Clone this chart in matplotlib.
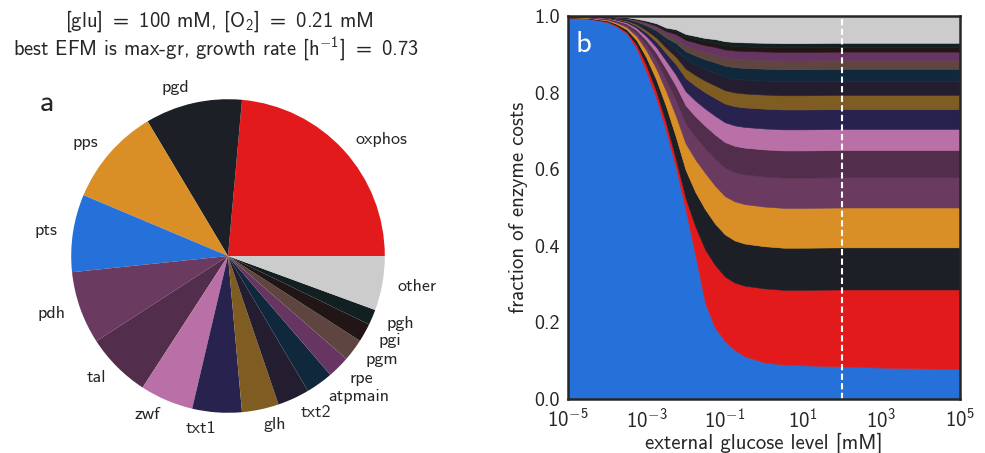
import numpy as np
import matplotlib
matplotlib.use("Agg")
import matplotlib.pyplot as plt
from matplotlib.ticker import FixedLocator, FixedFormatter

plt.rcParams['font.family'] = ['cmss10', 'DejaVu Sans']
plt.rcParams['mathtext.fontset'] = 'custom'
plt.rcParams['mathtext.rm'] = 'cmss10'
plt.rcParams['mathtext.it'] = 'cmss10'
plt.rcParams['mathtext.sf'] = 'cmss10'
plt.rcParams['mathtext.bf'] = 'cmss10'
plt.rcParams['axes.formatter.use_mathtext'] = True
plt.rcParams['axes.unicode_minus'] = True

TXT = '#262626'

# ---------------- pie data (panel a) ----------------
pie_labels = ['oxphos', 'pgd', 'pps', 'pts', 'pdh', 'tal', 'zwf', 'txt1', 'glh',
              'txt2', 'atpmain', 'rpe', 'pgm', 'pgi', 'pgh', 'other']
pie_values = [23.6, 10.0, 10.1, 8.0, 7.5, 6.7, 5.5, 5.1, 3.8,
              3.3, 2.8, 2.3, 2.3, 1.9, 1.6, 5.6]

colors = {
    'pts': '#2670d9', 'oxphos': '#e31a1c', 'pgd': '#1c1f26', 'pps': '#d98f26',
    'pdh': '#6a3a60', 'tal': '#522e4c', 'zwf': '#b970a6', 'txt1': '#28224f',
    'glh': '#7f5c22', 'txt2': '#241d30', 'atpmain': '#10283c', 'pgm': '#5e4540',
    'rpe': '#673562', 'pgi': '#221515', 'pgh': '#132022', 'other': '#cccccc',
}

# ---------------- stack data (panel b) ----------------
log_glucose = [-5, -4.5, -4, -3.75, -3.5, -3.25, -3, -2.75, -2.5, -2.25, -2, -1.75,
               -1.5, -1.25, -1, -0.75, -0.5, 0, 0.5, 1, 2, 3, 4, 5]

pts = [0.995, 0.993, 0.984, 0.972, 0.954, 0.915, 0.854, 0.785, 0.701, 0.605, 0.495, 0.375,
       0.250, 0.186, 0.152, 0.128, 0.112, 0.096, 0.090, 0.088, 0.085, 0.082, 0.080, 0.078]
oxphos = [0.001, 0.001, 0.002, 0.003, 0.004, 0.010, 0.0175, 0.019, 0.021, 0.022, 0.030, 0.075,
          0.140, 0.164, 0.168, 0.176, 0.184, 0.193, 0.195, 0.197, 0.201, 0.204, 0.206, 0.208]
pgd = [0.0006, 0.0011, 0.0024, 0.0039, 0.0066, 0.0116, 0.0198, 0.0303, 0.0424, 0.0578, 0.0732, 0.0900,
       0.1050, 0.1080, 0.1100, 0.1100, 0.1100, 0.1100, 0.110, 0.110, 0.110, 0.110, 0.110, 0.110]
pps = [0.0005, 0.0010, 0.0023, 0.0036, 0.0062, 0.0109, 0.0187, 0.0286, 0.0400, 0.0546, 0.0690, 0.0850,
       0.0950, 0.0990, 0.1000, 0.1020, 0.1030, 0.1035, 0.104, 0.104, 0.104, 0.104, 0.104, 0.104]
pdh = [0.0004, 0.0008, 0.0017, 0.0028, 0.0047, 0.0083, 0.0142, 0.0217, 0.0304, 0.0415, 0.0525, 0.0593,
       0.0648, 0.0703, 0.0743, 0.0765, 0.0776, 0.0786, 0.079, 0.079, 0.079, 0.079, 0.079, 0.079]
tal = [0.0004, 0.0007, 0.0016, 0.0025, 0.0043, 0.0075, 0.0128, 0.0195, 0.0273, 0.0373, 0.0472, 0.0533,
       0.0582, 0.0632, 0.0667, 0.0687, 0.0697, 0.0706, 0.071, 0.071, 0.071, 0.071, 0.071, 0.071]
zwf = [0.0003, 0.0006, 0.0012, 0.0019, 0.0033, 0.0058, 0.0099, 0.0151, 0.0212, 0.0289, 0.0366, 0.0413,
       0.0451, 0.0490, 0.0517, 0.0532, 0.0540, 0.0547, 0.055, 0.055, 0.055, 0.055, 0.055, 0.055]
txt1 = [0.0003, 0.0005, 0.0011, 0.0018, 0.0031, 0.0055, 0.0094, 0.0143, 0.0200, 0.0273, 0.0346, 0.0390,
        0.0426, 0.0463, 0.0489, 0.0503, 0.0511, 0.0517, 0.052, 0.052, 0.052, 0.052, 0.052, 0.052]
glh = [0.0002, 0.0004, 0.0008, 0.0013, 0.0022, 0.0039, 0.0067, 0.0102, 0.0142, 0.0194, 0.0246, 0.0278,
       0.0303, 0.0329, 0.0348, 0.0358, 0.0363, 0.0368, 0.037, 0.037, 0.037, 0.037, 0.037, 0.037]
txt2 = [0.0002, 0.0004, 0.0008, 0.0013, 0.0022, 0.0039, 0.0067, 0.0102, 0.0142, 0.0194, 0.0246, 0.0278,
        0.0303, 0.0329, 0.0348, 0.0358, 0.0363, 0.0368, 0.037, 0.037, 0.037, 0.037, 0.037, 0.037]
atpmain = [0.0002, 0.0003, 0.0007, 0.0011, 0.0019, 0.0033, 0.0056, 0.0085, 0.0119, 0.0163, 0.0206, 0.0233,
           0.0254, 0.0276, 0.0291, 0.0300, 0.0304, 0.0308, 0.031, 0.031, 0.031, 0.031, 0.031, 0.031]
pgm = [0.0001, 0.0002, 0.0005, 0.0008, 0.0014, 0.0024, 0.0041, 0.0063, 0.0089, 0.0121, 0.0153, 0.0173,
       0.0189, 0.0205, 0.0216, 0.0223, 0.0226, 0.0229, 0.023, 0.023, 0.023, 0.023, 0.023, 0.023]
rpe = [0.0001, 0.0002, 0.0005, 0.0008, 0.0013, 0.0023, 0.0040, 0.0061, 0.0085, 0.0116, 0.0146, 0.0165,
       0.0180, 0.0196, 0.0207, 0.0213, 0.0216, 0.0219, 0.022, 0.022, 0.022, 0.022, 0.022, 0.022]
pgi = [0.0001, 0.0001, 0.0003, 0.0004, 0.0007, 0.0013, 0.0022, 0.0033, 0.0046, 0.0063, 0.0080, 0.0090,
       0.0098, 0.0107, 0.0113, 0.0116, 0.0118, 0.0119, 0.012, 0.012, 0.012, 0.012, 0.012, 0.012]
pgh = [0.0001, 0.0001, 0.0002, 0.0004, 0.0007, 0.0012, 0.0020, 0.0030, 0.0042, 0.0058, 0.0073, 0.0083,
       0.0090, 0.0098, 0.0103, 0.0106, 0.0108, 0.0109, 0.011, 0.011, 0.011, 0.011, 0.011, 0.011]
other = [0.0004, 0.0007, 0.0015, 0.0025, 0.0042, 0.0074, 0.0126, 0.0193, 0.0270, 0.0368, 0.0466, 0.0525,
         0.0574, 0.0623, 0.0658, 0.0678, 0.0687, 0.0697, 0.070, 0.070, 0.070, 0.070, 0.070, 0.070]

stack_names = ['pts', 'oxphos', 'pgd', 'pps', 'pdh', 'tal', 'zwf', 'txt1', 'glh',
               'txt2', 'atpmain', 'pgm', 'rpe', 'pgi', 'pgh', 'other']
stack_series = [pts, oxphos, pgd, pps, pdh, tal, zwf, txt1, glh,
                txt2, atpmain, pgm, rpe, pgi, pgh, other]

selected_glucose = 100.0  # mM
y_ticks = [0.0, 0.2, 0.4, 0.6, 0.8, 1.0]
y_tick_labels = ['0.0', '0.2', '0.4', '0.6', '0.8', '1.0']
x_ticks = [1e-5, 1e-3, 1e-1, 1e1, 1e3, 1e5]
x_tick_labels = [r'$10^{-5}$', r'$10^{-3}$', r'$10^{-1}$', r'$10^{1}$', r'$10^{3}$', r'$10^{5}$']

W, H = 985, 453
fig = plt.figure(figsize=(W / 100, H / 100), dpi=100)

# ---------------- panel a ----------------
ax1 = fig.add_axes([32 / W, 1 / H, 392 / W, 392 / H])
wedges, texts = ax1.pie(pie_values, labels=pie_labels,
                        colors=[colors[n] for n in pie_labels],
                        startangle=0, counterclock=True,
                        textprops=dict(fontsize=13, color=TXT),
                        wedgeprops=dict(linewidth=0))
ax1.set_aspect('equal')
ax1.text(0.02, 0.87, 'a', transform=ax1.transAxes, fontsize=22, color=TXT,
         ha='left', va='baseline')

fig.text(219 / W, 1 - 27 / H, r'[glu] $=$ 100 mM, [O$_2$] $=$ 0.21 mM',
         ha='center', va='baseline', fontsize=14.8, color=TXT)
fig.text(216 / W, 1 - 55 / H, r'best EFM is max-gr, growth rate [h$^{-1}$] $=$ 0.73',
         ha='center', va='baseline', fontsize=14.8, color=TXT)

# ---------------- panel b ----------------
ax2 = fig.add_axes([568 / W, (H - 399) / H, 392 / W, 383 / H])
glucose = 10.0 ** np.array(log_glucose)
ax2.set_facecolor(colors['other'])
polys = ax2.stackplot(glucose, *stack_series,
                      colors=[colors[n] for n in stack_names], linewidth=0)
for p, n in zip(polys, stack_names):
    p.set_edgecolor(colors[n])
    p.set_linewidth(0.4)
ax2.axvline(selected_glucose, color='white', lw=1.5, ls=(0, (3, 1.6)))
ax2.set_xscale('log')
ax2.set_xlim(1e-5, 1e5)
ax2.set_ylim(0, 1)
ax2.minorticks_off()
ax2.xaxis.set_major_locator(FixedLocator(x_ticks))
ax2.xaxis.set_major_formatter(FixedFormatter(x_tick_labels))
ax2.set_yticks(y_ticks)
ax2.set_yticklabels(y_tick_labels)
ax2.tick_params(axis='y', length=0, labelsize=14.5, colors=TXT, pad=6)
ax2.tick_params(axis='x', length=0, labelsize=15, colors=TXT, pad=6)
for s in ax2.spines.values():
    s.set_color(TXT)
    s.set_linewidth(1.8)
ax2.set_xlabel('external glucose level [mM]', fontsize=15, color=TXT, labelpad=1)
ax2.set_ylabel('fraction of enzyme costs', fontsize=15, color=TXT, labelpad=4)
ax2.text(0.02, 0.905, 'b', transform=ax2.transAxes, fontsize=22, color='white',
         ha='left', va='baseline')

fig.savefig('out.png', dpi=100)
